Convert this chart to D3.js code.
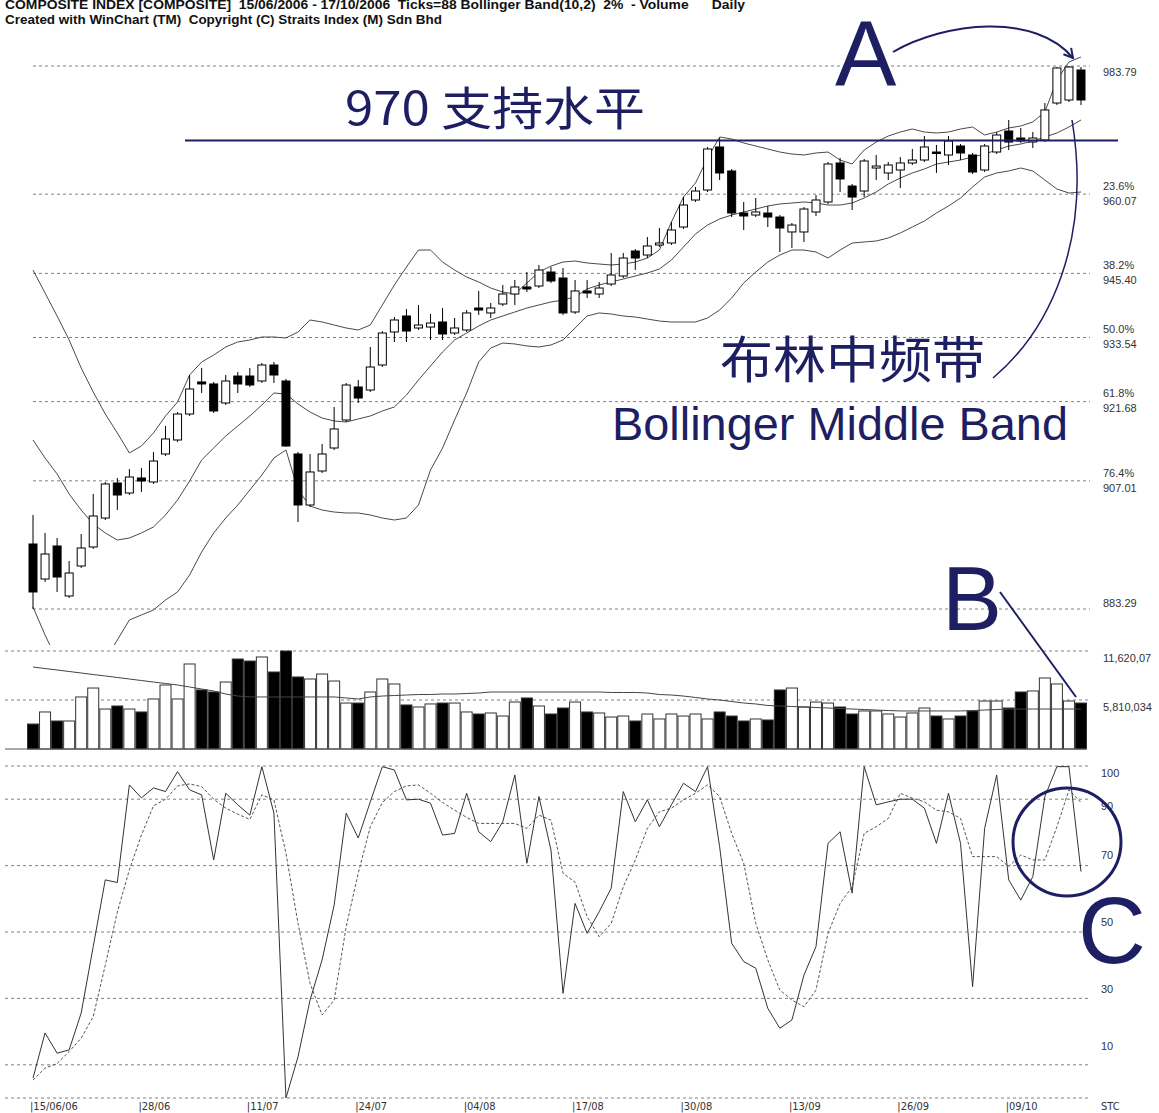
<!DOCTYPE html>
<html>
<head>
<meta charset="utf-8">
<title>Composite Index - Bollinger Band</title>
<script src="https://cdn.jsdelivr.net/npm/d3@7"></script>
<style>
  body { margin: 0; background: #fff; }
  svg { display: block; }
  text { font-family: "Liberation Sans", Arial, sans-serif; }
</style>
</head>
<body>
<div id="chart"></div>
<script>
// ---- data (88 daily ticks, 15/06/2006 - 17/10/2006) ----
var open = [895.32,888.84,894.95,885.70,891.25,894.77,900.13,906.61,904.76,907.54,
  906.80,911.98,914.57,919.38,925.31,924.94,921.42,926.41,926.41,925.49,
  928.45,925.49,911.98,902.54,908.83,913.09,918.27,924.38,923.82,928.45,
  934.56,937.52,935.30,935.48,936.41,934.37,934.93,939.00,938.08,939.74,
  941.59,942.89,943.07,945.66,944.55,938.26,942.15,941.59,943.44,944.92,
  949.55,948.81,950.66,951.03,953.99,958.99,960.84,968.80,964.36,956.58,
  956.21,956.58,955.84,953.07,953.07,956.77,958.62,965.84,961.58,960.65,
  964.91,963.99,964.54,965.84,966.39,967.87,967.32,968.98,967.32,964.54,
  967.87,971.76,970.46,969.72,970.09,976.94,977.50,983.05];
var high = [900.69,897.36,896.43,892.18,897.17,904.58,906.80,907.54,909.20,909.39,
  912.35,917.16,919.75,926.60,927.90,925.31,926.60,927.16,927.90,928.82,
  929.01,925.86,912.35,911.98,913.83,920.68,925.12,925.67,931.78,934.74,
  937.33,938.82,939.56,937.89,939.00,937.15,938.63,942.15,939.93,943.26,
  944.18,945.66,946.96,946.59,946.40,944.18,944.18,943.81,949.18,949.18,
  949.92,952.14,953.81,954.92,959.54,961.40,968.80,970.46,964.73,958.62,
  959.36,957.88,956.21,954.73,957.69,959.91,966.02,966.76,961.95,966.58,
  967.32,966.02,966.95,968.43,970.83,969.17,970.83,969.35,967.69,969.35,
  971.57,973.80,972.32,971.57,976.94,983.60,983.79,983.60];
var low = [883.29,888.29,886.44,885.33,890.88,894.40,899.76,901.61,904.39,904.95,
  906.43,911.61,914.20,919.01,923.27,919.57,921.05,923.27,924.38,925.12,
  925.12,913.30,899.39,902.17,908.46,912.72,917.90,921.42,923.45,928.08,
  932.71,932.71,934.93,933.08,933.08,934.00,934.56,937.71,937.15,939.37,
  939.56,941.96,942.70,943.63,937.71,937.89,940.85,940.85,943.07,944.55,
  946.03,948.25,950.29,950.66,953.62,958.62,960.47,962.69,955.84,953.44,
  955.84,953.99,949.36,950.11,951.22,956.03,958.25,960.47,957.14,959.54,
  962.69,962.69,961.21,965.47,966.02,963.99,965.47,966.39,963.80,964.17,
  967.50,968.24,969.54,968.61,969.72,976.57,977.13,976.57];
var close = [886.44,893.47,889.21,889.95,894.58,900.50,906.43,904.39,907.72,906.98,
  910.68,914.76,919.38,924.01,924.94,919.94,925.49,924.94,924.75,928.45,
  926.60,913.46,902.54,908.65,911.98,916.61,924.75,922.34,928.08,934.37,
  936.78,934.74,935.85,936.22,934.19,935.30,938.08,938.63,939.00,941.59,
  942.89,942.52,946.03,944.00,938.08,942.15,941.78,942.70,945.11,948.25,
  948.25,950.48,951.03,953.44,958.06,960.65,968.43,963.99,956.58,956.03,
  956.77,955.84,953.81,954.36,957.32,958.99,965.65,962.88,959.54,966.21,
  965.28,965.47,965.84,966.39,968.80,967.69,969.91,967.69,964.17,968.98,
  971.02,969.72,969.91,970.46,975.65,983.42,983.60,977.50];

var bbUpper = [946.03,941.78,937.52,933.08,927.90,923.45,919.38,915.87,912.17,913.46,
  915.87,919.01,921.60,926.60,929.01,930.30,931.78,932.71,933.08,933.63,
  933.63,933.45,934.56,936.78,936.41,935.85,935.30,934.93,935.85,939.56,
  943.26,946.59,949.73,949.73,947.51,946.03,944.74,943.81,942.70,941.96,
  941.59,943.63,945.66,946.77,947.51,947.70,947.33,947.14,946.96,947.14,
  947.51,948.25,949.73,954.92,959.54,962.14,966.76,970.65,970.28,969.54,
  968.98,968.43,967.87,967.50,967.32,967.69,967.87,966.39,965.65,968.24,
  969.72,970.83,971.57,972.13,971.57,971.39,971.57,972.13,972.50,971.02,
  971.57,972.32,972.69,973.43,975.28,981.20,984.53,985.46];
var bbMiddle = [914.57,911.24,908.28,904.58,901.61,899.02,897.36,896.06,896.43,897.36,
  898.47,900.69,903.46,906.98,910.87,913.09,915.31,917.16,919.01,921.05,
  923.27,923.08,921.23,919.75,918.64,918.09,917.90,918.46,919.01,919.94,
  920.68,922.90,925.67,928.27,930.86,933.08,934.37,935.67,936.78,937.52,
  938.26,939.00,939.56,940.11,940.48,941.04,942.52,943.26,943.81,944.37,
  944.92,945.48,946.22,947.88,950.29,952.70,954.36,955.47,956.21,956.77,
  957.32,957.88,958.25,958.43,958.62,958.43,958.06,958.06,958.43,959.36,
  960.47,961.95,963.06,963.99,964.73,965.65,966.02,966.39,966.95,967.50,
  968.24,968.98,969.35,969.91,970.65,971.39,972.50,973.80];
var bbLower = [883.66,878.48,873.85,871.08,870.15,871.08,873.85,877.55,881.26,882.18,
  883.11,884.95,886.44,889.58,893.84,897.36,900.13,902.54,905.32,908.09,
  911.24,912.72,905.32,902.35,901.61,901.24,901.06,901.06,900.69,900.13,
  899.76,900.13,902.54,909.02,913.09,918.27,923.27,929.01,931.60,932.52,
  932.34,931.97,931.78,932.16,933.08,935.30,937.52,938.08,937.89,937.52,
  937.33,936.96,936.59,936.41,936.41,936.41,937.15,938.63,940.85,943.63,
  945.66,947.51,948.81,949.73,949.73,949.36,948.25,949.73,951.03,951.22,
  951.40,951.96,952.88,953.99,955.10,956.58,957.88,959.36,961.40,963.25,
  963.99,964.36,964.91,964.36,962.69,961.02,960.28,960.47];

var volume = [2960000,4390000,3320000,3320000,6170000,7230000,4740000,5100000,4740000,4390000,
  5930000,7590000,5930000,10080000,7000000,6760000,7940000,10670000,10430000,10910000,
  9130000,11620000,8540000,8300000,8890000,8060000,5450000,5450000,6760000,8300000,
  7710000,5220000,4980000,5340000,5450000,5450000,4390000,4150000,4270000,3910000,
  5570000,6050000,5100000,4150000,4860000,5570000,4390000,4270000,3790000,3910000,
  3320000,4150000,3560000,4150000,3910000,4150000,3560000,4390000,3910000,3320000,
  3560000,3440000,7000000,7230000,4980000,5570000,5450000,4980000,4150000,4510000,
  4510000,4150000,3790000,4270000,4860000,3910000,3560000,3910000,4510000,5690000,
  5690000,4860000,6760000,6880000,8420000,7710000,5690000,5450000];
var volumeMA = [9720000,9540000,9370000,9190000,9010000,8830000,8660000,8480000,8300000,8120000,
  7940000,7770000,7590000,7350000,7110000,6880000,6520000,6280000,6170000,6170000,
  6170000,6170000,6170000,6170000,6170000,6170000,6050000,5930000,6170000,6280000,
  6340000,6400000,6460000,6460000,6520000,6520000,6580000,6640000,6760000,6760000,
  6760000,6760000,6760000,6760000,6760000,6760000,6760000,6760000,6700000,6700000,
  6700000,6640000,6460000,6400000,6280000,6110000,5930000,5810000,5630000,5450000,
  5340000,5160000,5100000,5040000,4980000,4920000,4860000,4800000,4740000,4680000,
  4620000,4560000,4510000,4510000,4510000,4510000,4510000,4510000,4560000,4620000,
  4680000,4740000,4740000,4740000,4740000,4740000,4740000,4740000];

var stochK = [6,19.6,13.5,14.5,25.6,45.6,65.7,64.9,94.3,90.4,
  93.4,92.3,98.3,92.8,91.3,71.7,91.8,88.3,85.2,99.8,
  85.8,0,12.4,29.5,41.6,58.1,85.8,78.3,89.2,99.8,
  98.8,89.8,90,88.8,79.2,79.7,91.8,80.2,77.2,83.2,
  97.3,70.7,90.8,74.7,31.5,58.6,49.6,56.1,63.2,92.3,
  83.2,89.8,81.7,88.3,94.8,92.3,99.8,75.7,46.6,41.1,
  39.1,27,21,23.5,37,45.6,76.7,80.2,61.7,99.8,
  88.3,89.2,90,90,87.3,76.7,91.8,76.7,33.5,81.2,
  97.3,65.7,59.6,66.7,90.8,99.8,99.8,68.2];
var stochD = [5.4,9,10.4,14,18,24.5,40,56,68.7,79.2,
  88,90,94,94.6,93.8,90,87.3,85.5,83.9,91.3,
  89.8,73.7,52.6,34.5,25,29.5,51.6,67.7,81.7,89,
  92.3,94,94.3,91.8,89,86.7,84.5,82.7,82.7,82.7,
  82.7,81.2,85.2,83.7,67.7,65,54.6,48.6,52.6,63.6,
  71.7,81.2,86.2,87.3,89.8,91.8,94.3,90.8,79.7,70.7,
  52.6,41.6,32.5,29.5,27.5,32.5,49.6,58.6,63.6,79.7,
  81.7,84.2,91.8,90.3,89.2,86.7,86.2,84.2,72.7,72.7,
  72.7,69.7,73.2,71.7,71.7,81.7,92.8,89];

var dateTickIndex = [0, 9, 18, 27, 36, 45, 54, 63, 72, 81];
var dateTickLabels = ["15/06/06", "28/06", "11/07", "24/07", "04/08", "17/08", "30/08", "13/09", "26/09", "09/10"];

var priceLevels = [983.79, 960.07, 945.40, 933.54, 921.68, 907.01, 883.29];
var priceLevelPct = ["", "23.6%", "38.2%", "50.0%", "61.8%", "76.4%", ""];
var volumeLevels = [11620068, 5810034];
var volumeLevelLabels = ["11,620,07", "5,810,034"];
var stcLevels = [100, 90, 70, 50, 30, 10, 0];
var supportLevel = 970;

(function() {
  "use strict";

  var width = 1159,
    height = 1113,
    navy = "#1e1e62",
    gridColor = "#808080",
    labelX = 1103,
    gridRight = 1090;

  var svg = d3.select("#chart").append("svg")
    .attr("width", width)
    .attr("height", height);

  var x = d3.scaleLinear().domain([0, open.length - 1]).range([33, 1081]),
    y = d3.scaleLinear().domain([883.29, 983.79]).range([609, 66]),
    yVol = d3.scaleLinear().domain([0, 11620068]).range([749, 651]),
    yStc = d3.scaleLinear().domain([0, 100]).range([1098, 766]);

  // header
  svg.append("text")
    .attr("x", 5).attr("y", 9)
    .attr("textLength", 740).attr("lengthAdjust", "spacingAndGlyphs")
    .style("white-space", "pre")
    .style("font-size", "12px").style("font-weight", "bold").style("fill", "#111")
    .text("COMPOSITE INDEX [COMPOSITE]  15/06/2006 - 17/10/2006  Ticks=88 Bollinger Band(10,2)  2%  - Volume      Daily");
  svg.append("text")
    .attr("x", 5).attr("y", 24)
    .attr("textLength", 437).attr("lengthAdjust", "spacingAndGlyphs")
    .style("white-space", "pre")
    .style("font-size", "12px").style("font-weight", "bold").style("fill", "#111")
    .text("Created with WinChart (TM)  Copyright (C) Straits Index (M) Sdn Bhd");

  svg.append("defs").append("clipPath").attr("id", "priceClip")
    .append("rect").attr("x", 0).attr("y", 30).attr("width", 1095).attr("height", 615);

  // ---------- price panel ----------
  var grid = svg.append("g").attr("class", "grid");

  grid.selectAll(".pgrid").data(priceLevels).enter().append("line")
    .attr("class", "pgrid")
    .attr("x1", 33).attr("x2", gridRight)
    .attr("y1", d => y(d)).attr("y2", d => y(d))
    .style("stroke", gridColor).style("stroke-dasharray", "3,3");

  var plabels = svg.append("g").style("font-size", "11px").style("fill", "#333");
  priceLevels.forEach(function(v, j) {
    var gy = y(v);
    if (priceLevelPct[j]) {
      plabels.append("text").attr("x", labelX).attr("y", gy - 8).attr("dy", "0.35em").text(priceLevelPct[j]);
      plabels.append("text").attr("x", labelX).attr("y", gy + 7).attr("dy", "0.35em").text(v.toFixed(2));
    } else {
      plabels.append("text").attr("x", labelX).attr("y", j === 0 ? gy + 6 : gy - 6).attr("dy", "0.35em").text(v.toFixed(2));
    }
  });

  var price = svg.append("g").attr("clip-path", "url(#priceClip)");

  var bandLine = d3.line().x((d, i) => x(i)).y(d => y(d));
  [bbUpper, bbMiddle, bbLower].forEach(function(band) {
    price.append("path")
      .attr("d", bandLine(band))
      .style("fill", "none").style("stroke", "#4a4a4a").style("stroke-width", 1);
  });

  var candles = d3.range(open.length).map(function(i) {
    return {i: i, o: open[i], h: high[i], l: low[i], c: close[i]};
  });

  var cg = price.selectAll(".candle").data(candles).enter().append("g").attr("class", "candle");
  cg.append("line")
    .attr("x1", d => x(d.i)).attr("x2", d => x(d.i))
    .attr("y1", d => y(d.h)).attr("y2", d => y(d.l))
    .style("stroke", "#000").style("stroke-width", 1);
  cg.append("rect")
    .attr("x", d => x(d.i) - 4)
    .attr("width", 8)
    .attr("y", d => y(Math.max(d.o, d.c)))
    .attr("height", d => Math.max(1.5, y(Math.min(d.o, d.c)) - y(Math.max(d.o, d.c))))
    .style("fill", d => d.c < d.o ? "#000" : "#fff")
    .style("stroke", "#000").style("stroke-width", 1);

  // ---------- volume panel ----------
  grid.selectAll(".vgrid").data(volumeLevels).enter().append("line")
    .attr("class", "vgrid")
    .attr("x1", 5).attr("x2", gridRight)
    .attr("y1", d => yVol(d)).attr("y2", d => yVol(d))
    .style("stroke", gridColor).style("stroke-dasharray", "3,3");

  svg.append("g").style("font-size", "11px").style("fill", "#333")
    .selectAll("text").data(volumeLevels).enter().append("text")
    .attr("x", labelX).attr("y", d => yVol(d) + 7).attr("dy", "0.35em")
    .text((d, i) => volumeLevelLabels[i]);

  svg.append("g").selectAll("rect").data(candles).enter().append("rect")
    .attr("x", d => x(d.i) - 5.5)
    .attr("width", 11)
    .attr("y", d => yVol(volume[d.i]))
    .attr("height", d => yVol(0) - yVol(volume[d.i]))
    .style("fill", d => d.c < d.o ? "#000" : "#fff")
    .style("stroke", "#333").style("stroke-width", 1);

  svg.append("path")
    .attr("d", d3.line().x((d, i) => x(i)).y(d => yVol(d))(volumeMA))
    .style("fill", "none").style("stroke", "#444").style("stroke-width", 1);

  svg.append("line")
    .attr("x1", 5).attr("x2", 1086)
    .attr("y1", yVol(0)).attr("y2", yVol(0))
    .style("stroke", "#555").style("stroke-width", 1.2);

  // ---------- stochastic panel ----------
  grid.selectAll(".sgrid").data(stcLevels).enter().append("line")
    .attr("class", "sgrid")
    .attr("x1", 5).attr("x2", gridRight)
    .attr("y1", d => yStc(d)).attr("y2", d => yStc(d))
    .style("stroke", gridColor).style("stroke-dasharray", "3,3");

  var stcLabelDy = {100: 7, 90: 7, 70: -10, 50: -10, 30: -9, 10: -19};
  svg.append("g").style("font-size", "11px").style("fill", "#333")
    .selectAll("text").data(stcLevels.filter(d => d > 0)).enter().append("text")
    .attr("x", 1101).attr("y", d => yStc(d) + stcLabelDy[d]).attr("dy", "0.35em")
    .text(d => d);

  var stcLine = d3.line().x((d, i) => x(i)).y(d => yStc(d));
  svg.append("path").attr("d", stcLine(stochD))
    .style("fill", "none").style("stroke", "#555").style("stroke-width", 1)
    .style("stroke-dasharray", "3,2");
  svg.append("path").attr("d", stcLine(stochK))
    .style("fill", "none").style("stroke", "#333").style("stroke-width", 1);

  // date axis
  var axisFont = "'Liberation Sans Narrow', 'DejaVu Sans Condensed', sans-serif";
  svg.append("g").selectAll("text").data(dateTickIndex).enter().append("text")
    .attr("x", d => x(d) - 3).attr("y", 1110)
    .style("font-family", axisFont).style("font-size", "11px").style("fill", "#333")
    .text((d, i) => "|" + dateTickLabels[i]);
  svg.append("text").attr("x", 1101).attr("y", 1110)
    .style("font-family", axisFont).style("font-size", "11px").style("fill", "#333")
    .text("STC");

  // ---------- annotations ----------
  var ann = svg.append("g").attr("class", "annotations");
  var cjk = "'Noto Sans CJK SC', 'Noto Sans', sans-serif";

  ann.append("line")
    .attr("x1", 185).attr("x2", 1118)
    .attr("y1", y(supportLevel)).attr("y2", y(supportLevel))
    .style("stroke", navy).style("stroke-width", 2);

  ann.append("text")
    .attr("x", 345).attr("y", 125)
    .attr("textLength", 300).attr("lengthAdjust", "spacingAndGlyphs")
    .style("font-family", cjk).style("font-size", "46px").style("fill", navy)
    .text("970 支持水平");

  ann.append("text")
    .attr("x", 835).attr("y", 86)
    .style("font-size", "92px").style("fill", navy)
    .text("A");

  svg.select("defs").append("marker")
    .attr("id", "arrowHead")
    .attr("viewBox", "0 0 12 12").attr("refX", 10).attr("refY", 6)
    .attr("markerWidth", 12).attr("markerHeight", 12)
    .attr("markerUnits", "userSpaceOnUse")
    .attr("orient", "auto")
    .append("path").attr("d", "M1,1 L10,6 L1,11")
    .style("fill", "none").style("stroke", navy).style("stroke-width", 2);

  ann.append("path")
    .attr("d", "M893,52 C945,22 1035,12 1073,58")
    .attr("marker-end", "url(#arrowHead)")
    .style("fill", "none").style("stroke", navy).style("stroke-width", 2);

  ann.append("text")
    .attr("x", 720).attr("y", 378)
    .attr("textLength", 265).attr("lengthAdjust", "spacingAndGlyphs")
    .style("font-family", cjk).style("font-size", "50px").style("fill", navy)
    .text("布林中频带");

  ann.append("text")
    .attr("x", 612).attr("y", 440)
    .attr("textLength", 456).attr("lengthAdjust", "spacingAndGlyphs")
    .style("font-size", "47px").style("fill", navy)
    .text("Bollinger Middle Band");

  ann.append("path")
    .attr("d", "M993,378 C1050,330 1092,240 1072,120")
    .style("fill", "none").style("stroke", navy).style("stroke-width", 1.5);

  ann.append("text")
    .attr("x", 942).attr("y", 630)
    .style("font-size", "90px").style("fill", navy)
    .text("B");

  ann.append("line")
    .attr("x1", 1000).attr("y1", 592).attr("x2", 1076).attr("y2", 697)
    .style("stroke", navy).style("stroke-width", 2);

  ann.append("circle")
    .attr("cx", 1067).attr("cy", 842).attr("r", 54)
    .style("fill", "none").style("stroke", navy).style("stroke-width", 3);

  ann.append("text")
    .attr("x", 1078).attr("y", 963)
    .style("font-size", "94px").style("fill", navy)
    .text("C");
})();
</script>
</body>
</html>
